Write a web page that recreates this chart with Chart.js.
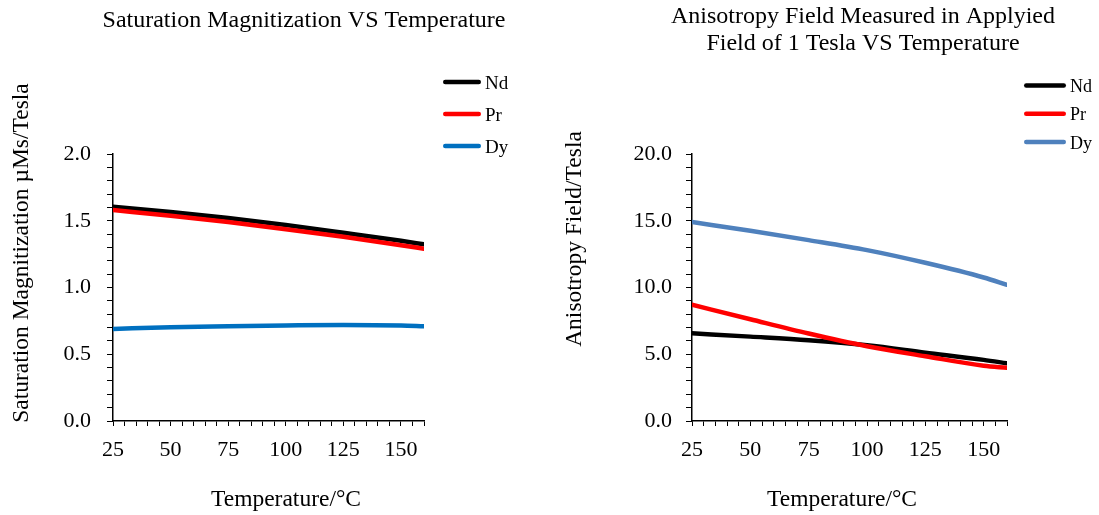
<!DOCTYPE html>
<html>
<head>
<meta charset="utf-8">
<title>Saturation magnetization and anisotropy field vs temperature</title>
<script src="https://cdn.jsdelivr.net/npm/chart.js@4.4.1/dist/chart.umd.min.js"></script>
<style>
    html, body { margin: 0; padding: 0; background: #fff; overflow: hidden; }
    #wrap { position: relative; width: 1099px; height: 515px; }
    canvas { position: absolute; top: 0; }
    #msChart { left: 0; }
    #hkChart { left: 550px; }
</style>
</head>
<body>
<div id="wrap">
    <canvas id="msChart" width="550" height="515"></canvas>
    <canvas id="hkChart" width="549" height="515"></canvas>
</div>
<script>
const SERIF = '"Liberation Serif", "Times New Roman", serif';

// temperatures (°C) the curves were read at
const temps = [25, 50, 75, 100, 125, 150, 160];
const seriesNames = ["Nd", "Pr", "Dy"];

// saturation magnetization, µMs/Tesla
const msNd = [1.605, 1.565, 1.52, 1.468, 1.41, 1.35, 1.323];
const msPr = [1.58, 1.538, 1.49, 1.437, 1.38, 1.317, 1.29];
const msDy = [0.69, 0.703, 0.71, 0.716, 0.72, 0.716, 0.71];

// anisotropy field in 1 T applied field, Tesla
const hkNd = [6.57, 6.32, 6.05, 5.67, 5.12, 4.58, 4.32];
const hkPr = [8.71, 7.62, 6.55, 5.6, 4.85, 4.14, 3.99];
const hkDy = [14.9, 14.25, 13.55, 12.8, 11.85, 10.75, 10.2];

// labelled ticks (the others are unlabelled minor marks)
const xTickLabels = [25, 50, 75, 100, 125, 150];
const msTickLabels = [0, 0.5, 1, 1.5, 2];
const hkTickLabels = [0, 5, 10, 15, 20];

function toPoints(values) {
    return temps.map((t, i) => ({ x: t, y: values[i] }));
}

function makeDatasets(series, colors) {
    return series.map((values, i) => ({
        label: seriesNames[i],
        data: toPoints(values),
        borderColor: colors[i],
        borderWidth: 4.5,
        borderCapStyle: "round",
        pointRadius: 0,
        cubicInterpolationMode: "monotone",
        order: series.length - i   // later series painted on top
    }));
}

// titles, axis titles and legend sit where the original put them
function textPlugin(t) {
    return {
        id: "chartText",
        afterDraw(chart) {
            const ctx = chart.ctx;
            ctx.save();
            ctx.fillStyle = "#000";
            ctx.textBaseline = "alphabetic";
            ctx.textAlign = "center";

            ctx.font = `24px ${SERIF}`;
            t.title.forEach((line, i) => ctx.fillText(line, t.titleX, t.titleY + i * 27));

            ctx.font = `23.5px ${SERIF}`;
            ctx.fillText(t.xTitle, t.xTitleX, t.xTitleY);

            ctx.save();
            ctx.translate(t.yTitleX, t.yTitleY);
            ctx.rotate(-Math.PI / 2);
            ctx.fillText(t.yTitle, 0, 0);
            ctx.restore();

            // legend: short stroke in the series colour, then its name
            ctx.font = `${t.legendSize}px ${SERIF}`;
            ctx.textAlign = "left";
            chart.data.datasets.forEach((ds, i) => {
                const y = t.legendY + i * t.legendGap;
                const half = ds.borderWidth / 2;
                ctx.strokeStyle = ds.borderColor;
                ctx.lineWidth = ds.borderWidth;
                ctx.lineCap = "round";
                ctx.beginPath();
                ctx.moveTo(t.legendX + half, y);
                ctx.lineTo(t.legendX + t.legendLen - half, y);
                ctx.stroke();
                ctx.fillText(ds.label, t.legendX + t.legendLen + 4, y + t.legendSize * 0.37);
            });
            ctx.restore();
        }
    };
}

function isLabelled(v, list) {
    return list.some(l => Math.abs(l - v) < 1e-9);
}

function buildChart(id, cfg) {
    const tickFont = { family: SERIF, size: 22 };
    return new Chart(document.getElementById(id), {
        type: "line",
        data: { datasets: makeDatasets(cfg.series, cfg.colors) },
        options: {
            responsive: false,
            animation: false,
            layout: { padding: { top: 154, right: cfg.padRight, bottom: 0, left: 0 } },
            plugins: {
                legend: { display: false },
                title: { display: false },
                tooltip: { enabled: false }
            },
            scales: {
                x: {
                    type: "linear",
                    min: 25,
                    max: 160,
                    afterFit: s => { s.height = 94; },
                    border: { color: "#000", width: 1.5 },
                    grid: { drawOnChartArea: false, color: "#000", tickLength: 5 },
                    ticks: {
                        stepSize: 5,
                        maxTicksLimit: 100,
                        autoSkip: false,
                        maxRotation: 0,
                        padding: 11,
                        color: "#000",
                        font: tickFont,
                        callback: v => isLabelled(v, xTickLabels) ? String(v) : ""
                    }
                },
                y: {
                    min: 0,
                    max: cfg.yMax,
                    afterFit: s => { s.width = cfg.axisWidth; },
                    border: { color: "#000", width: 1.5 },
                    grid: { drawOnChartArea: false, color: "#000", tickLength: 6 },
                    ticks: {
                        stepSize: cfg.yStep,
                        maxTicksLimit: 100,
                        autoSkip: false,
                        padding: cfg.yPad,
                        color: "#000",
                        font: tickFont,
                        callback: v => isLabelled(v, cfg.yLabels) ? v.toFixed(1) : ""
                    }
                }
            }
        },
        plugins: [textPlugin(cfg.text)]
    });
}

buildChart("msChart", {
    series: [msNd, msPr, msDy],
    colors: ["#000000", "#FF0000", "#0070C0"],
    yMax: 2,
    yStep: 0.1,
    yLabels: msTickLabels,
    axisWidth: 113,
    yPad: 16,
    padRight: 126,
    text: {
        title: ["Saturation Magnitization VS Temperature"],
        titleX: 304, titleY: 27,
        xTitle: "Temperature/°C", xTitleX: 286, xTitleY: 506,
        yTitle: "Saturation Magnitization µMs/Tesla", yTitleX: 28, yTitleY: 253,
        legendX: 443, legendLen: 38, legendY: 82, legendGap: 32, legendSize: 19
    }
});

buildChart("hkChart", {
    series: [hkNd, hkPr, hkDy],
    colors: ["#000000", "#FF0000", "#4F81BD"],
    yMax: 20,
    yStep: 1,
    yLabels: hkTickLabels,
    axisWidth: 142,
    yPad: 14,
    padRight: 92,
    text: {
        title: ["Anisotropy Field Measured in Applyied", "Field of 1 Tesla VS Temperature"],
        titleX: 313, titleY: 23,
        xTitle: "Temperature/°C", xTitleX: 292, xTitleY: 506,
        yTitle: "Anisotropy Field/Tesla", yTitleX: 31, yTitleY: 239,
        legendX: 474, legendLen: 42, legendY: 85.5, legendGap: 28.3, legendSize: 18
    }
});
</script>
</body>
</html>
